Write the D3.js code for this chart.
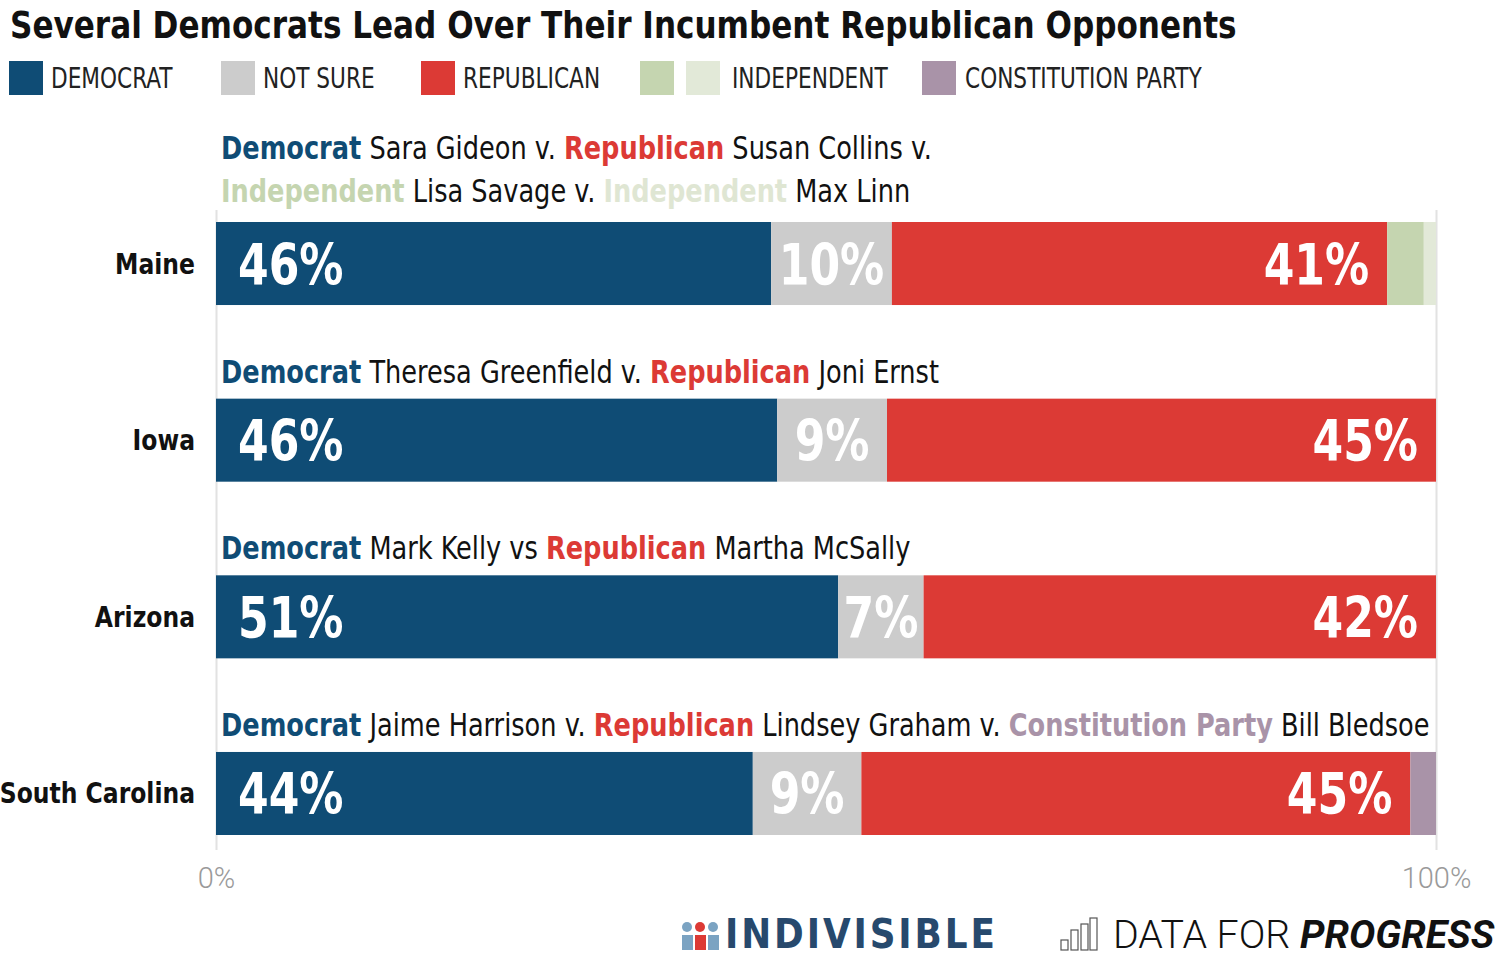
<!DOCTYPE html>
<html>
<head>
<meta charset="utf-8">
<script src="https://cdn.jsdelivr.net/npm/d3@7"></script>
<style>
  body { margin: 0; background: #fff; }
  svg { display: block; font-family: "DejaVu Sans Condensed", "DejaVu Sans", sans-serif; }
</style>
</head>
<body>
<div id="chartArea"></div>
<script>
// data
const states = ["Maine", "Iowa", "Arizona", "South Carolina"];
const parties = ["dem", "notsure", "rep", "ind1", "ind2", "const"];
const partyNames = ["DEMOCRAT", "NOT SURE", "REPUBLICAN", "INDEPENDENT", "CONSTITUTION PARTY"];
const demVals = [45.5, 46, 51, 44];
const notSureVals = [9.9, 9, 7, 8.9];
const repVals = [40.6, 45, 42, 45];
const ind1Vals = [3.0, 0, 0, 0];
const ind2Vals = [1.0, 0, 0, 0];
const constVals = [0, 0, 0, 2.1];
const axisTicks = [0, 100];

// matchup lines above each bar: [text, party]
const matchups = [
  [[["Democrat", "dem"], [" Sara Gideon v. ", ""], ["Republican", "rep"], [" Susan Collins v.", ""]],
   [["Independent", "ind1"], [" Lisa Savage v. ", ""], ["Independent", "ind2"], [" Max Linn", ""]]],
  [[["Democrat", "dem"], [" Theresa Greenfield v. ", ""], ["Republican", "rep"], [" Joni Ernst", ""]]],
  [[["Democrat", "dem"], [" Mark Kelly vs ", ""], ["Republican", "rep"], [" Martha McSally", ""]]],
  [[["Democrat", "dem"], [" Jaime Harrison v. ", ""], ["Republican", "rep"], [" Lindsey Graham v. ", ""],
    ["Constitution Party", "const"], [" Bill Bledsoe", ""]]]
];

const color = d3.scaleOrdinal()
  .domain(parties)
  .range(["#0f4c75", "#cccccc", "#dc3a35", "#c5d5b0", "#e2e9d8", "#a993a8"]);
const textColor = { dem: "#0f4c75", rep: "#dc3a35", ind1: "#c5d5b0", ind2: "#dfe6d3", const: "#a993a8", "": "#111" };

const W = 1500, H = 959;
const svg = d3.select("#chartArea").append("svg")
  .attr("width", W)
  .attr("height", H);

// no condensed font installed, so squeeze text horizontally around its anchor
function squeeze(sel, f) {
  sel.each(function () {
    const b = this.getBBox();
    const anchor = d3.select(this).attr("text-anchor") || "start";
    const ax = anchor === "end" ? b.x + b.width : anchor === "middle" ? b.x + b.width / 2 : b.x;
    d3.select(this).attr("transform", `translate(${ax},0) scale(${f},1) translate(${-ax},0)`);
  });
}
function fit(sel, w) {
  sel.each(function () {
    squeeze(d3.select(this), w / this.getBBox().width);
  });
}

// table for the stack
const rows = states.map((s, i) => ({
  state: s, dem: demVals[i], notsure: notSureVals[i], rep: repVals[i],
  ind1: ind1Vals[i], ind2: ind2Vals[i], const: constVals[i]
}));
const series = d3.stack().keys(parties)(rows);

const x = d3.scaleLinear().domain([0, 100]).range([216, 1436]);
const y = d3.scaleBand().domain(states).range([222, 835]).paddingInner(0.53);

//title
svg.append("text")
  .attr("x", 10).attr("y", 38)
  .attr("font-size", 38).attr("font-weight", "bold").attr("fill", "#111")
  .text("Several Democrats Lead Over Their Incumbent Republican Opponents")
  .call(fit, 1227);

//legend
const legendX = [9, 221, 421, 640, 922];
const legendTextX = [51, 263, 463, 732, 965];
const legendKeys = [["dem"], ["notsure"], ["rep"], ["ind1", "ind2"], ["const"]];
partyNames.forEach((name, i) => {
  legendKeys[i].forEach((k, j) => {
    svg.append("rect")
      .attr("x", legendX[i] + j * 46).attr("y", 61)
      .attr("width", 34).attr("height", 34)
      .attr("fill", color(k));
  });
  svg.append("text")
    .attr("class", "legend-label")
    .attr("x", legendTextX[i]).attr("y", 88)
    .attr("font-size", 28).attr("fill", "#222")
    .text(name);
});
squeeze(svg.selectAll(".legend-label"), 0.86);

// gridlines + axis
const axis = svg.append("g")
  .attr("transform", "translate(0,850)")
  .call(d3.axisBottom(x).tickValues(axisTicks).tickFormat(d => d + "%").tickSize(-640));
axis.select(".domain").remove();
axis.selectAll(".tick line").attr("stroke", "#e2e2e2").attr("stroke-width", 2);
axis.selectAll(".tick text")
  .attr("font-size", 29).attr("fill", "#9a9a9a").attr("dy", 0).attr("y", 38)
  .attr("font-family", "Roboto, sans-serif").attr("font-weight", 300);

// bars
svg.append("g").selectAll("g")
  .data(series)
  .join("g")
  .attr("fill", d => color(d.key))
  .selectAll("rect")
  .data(d => d)
  .join("rect")
  .attr("x", d => x(d[0]))
  .attr("y", d => y(d.data.state))
  .attr("width", d => x(d[1]) - x(d[0]))
  .attr("height", y.bandwidth());

// percent labels in bars
series.filter(s => ["dem", "notsure", "rep"].includes(s.key)).forEach(s => {
  svg.append("g").selectAll("text")
    .data(s)
    .join("text")
    .attr("class", "pct")
    .attr("x", d => s.key === "dem" ? x(d[0]) + 22 : s.key === "notsure" ? (x(d[0]) + x(d[1])) / 2 : x(d[1]) - 18)
    .attr("y", d => y(d.data.state) + y.bandwidth() / 2 + 21)
    .attr("text-anchor", s.key === "dem" ? "start" : s.key === "notsure" ? "middle" : "end")
    .attr("font-size", 57).attr("font-weight", "bold").attr("fill", "#fff")
    .text(d => Math.round(d[1] - d[0]) + "%");
});
squeeze(svg.selectAll(".pct"), 0.86);

// state labels
svg.append("g").selectAll("text")
  .data(states)
  .join("text")
  .attr("class", "state")
  .attr("x", 195)
  .attr("y", d => y(d) + y.bandwidth() / 2 + 10)
  .attr("text-anchor", "end")
  .attr("font-size", 29).attr("font-weight", "bold").attr("fill", "#111")
  .text(d => d);
squeeze(svg.selectAll(".state"), 0.9);

// matchup lines (two-line block sits a little higher)
matchups.forEach((lines, i) => {
  lines.forEach((segs, j) => {
    const t = svg.append("text")
      .attr("class", "matchup")
      .attr("x", 221)
      .attr("y", y(states[i]) - 16 - (lines.length - 1) * 4 - (lines.length - 1 - j) * 43)
      .attr("font-size", 32)
      .attr("xml:space", "preserve");
    segs.forEach(sg => {
      t.append("tspan")
        .attr("fill", textColor[sg[1]])
        .attr("font-weight", sg[1] ? "bold" : "normal")
        .text(sg[0]);
    });
  });
});
squeeze(svg.selectAll(".matchup"), 0.89);

// logos
const logo = svg.append("g");
// indivisible icon: little people
const iconCols = [
  { x: 682, c: "#7ba3c2" },
  { x: 695, c: "#dc3a35" },
  { x: 708, c: "#7ba3c2" }
];
iconCols.forEach(ic => {
  logo.append("circle").attr("cx", ic.x + 5).attr("cy", 927).attr("r", 5).attr("fill", ic.c);
  logo.append("rect").attr("x", ic.x).attr("y", 935).attr("width", 11).attr("height", 15).attr("fill", ic.c);
});
logo.append("text")
  .attr("x", 725).attr("y", 948)
  .attr("font-size", 41).attr("font-weight", "bold").attr("fill", "#27496d")
  .attr("letter-spacing", 3)
  .text("INDIVISIBLE")
  .call(fit, 273);

// data for progress icon
const dfpBars = [[1061, 10], [1071, 20], [1081, 26], [1090, 32]];
dfpBars.forEach(b => {
  logo.append("rect")
    .attr("x", b[0]).attr("y", 950 - b[1])
    .attr("width", 7).attr("height", b[1])
    .attr("fill", "none").attr("stroke", "#555").attr("stroke-width", 1.2);
});
const dfp = logo.append("text")
  .attr("x", 1113).attr("y", 948)
  .attr("font-size", 39).attr("fill", "#111")
  .attr("xml:space", "preserve");
dfp.append("tspan").attr("font-family", "Roboto, sans-serif").attr("font-weight", 300).text("DATA FOR ");
dfp.append("tspan").attr("font-family", "Roboto, sans-serif").attr("font-weight", "bold").attr("font-style", "italic").text("PROGRESS");
dfp.call(fit, 382);
</script>
</body>
</html>
